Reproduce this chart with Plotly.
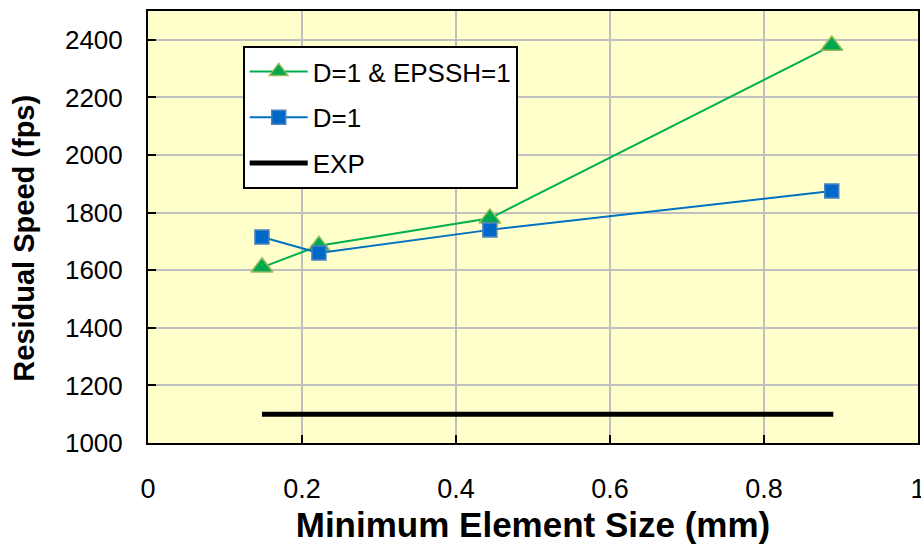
import plotly.graph_objects as go

# Minimum element size (mm) for each mesh
element_size = [0.148, 0.222, 0.444, 0.888]

# Residual speed (fps) for each model setting
speed_d1_epssh1 = [1610, 1685, 1780, 2380]
speed_d1 = [1715, 1660, 1740, 1875]

# Experimental residual speed, shown across the mesh range
exp_x = [0.148, 0.89]
exp_speed = [1100, 1100]

series_names = ["D=1 & EPSSH=1", "D=1", "EXP"]
x_ticks = [0, 0.2, 0.4, 0.6, 0.8, 1]
y_ticks = [1000, 1200, 1400, 1600, 1800, 2000, 2200, 2400]

fig = go.Figure()

fig.add_trace(go.Scatter(
    x=element_size, y=speed_d1_epssh1, name=series_names[0],
    mode="lines+markers", legendgroup="a",
    line=dict(color="#00B050", width=2),
    marker=dict(symbol="triangle-up", size=19, color="#00A84F",
                line=dict(color="#9BBB59", width=1.5)),
))
fig.add_trace(go.Scatter(
    x=element_size, y=speed_d1, name=series_names[1],
    mode="lines+markers", legendgroup="b",
    line=dict(color="#0070C0", width=2),
    marker=dict(symbol="square", size=14, color="#0068C8",
                line=dict(color="#4F81BD", width=1.5)),
))
fig.add_trace(go.Scatter(
    x=exp_x, y=exp_speed, name=series_names[2],
    mode="lines", legendgroup="c",
    line=dict(color="black", width=5),
))

axis_common = dict(
    showline=True, linecolor="black", linewidth=2, mirror=True,
    ticks="inside", ticklen=8, tickwidth=2, tickcolor="black",
    showgrid=True, gridcolor="#BFBFBF", gridwidth=1.5,
    zeroline=False, automargin=False,
    ticklabeloverflow="allow",
)

fig.update_xaxes(
    range=[0, 1], tickvals=x_ticks, ticktext=[f"{v:g}" for v in x_ticks],
    ticklabelstandoff=21,
    tickfont=dict(family="Arial", size=27, color="black"),
    title=dict(text="<b>Minimum Element Size (mm)</b>", standoff=12,
               font=dict(family="Arial", size=35, color="black")),
    **axis_common,
)
fig.update_yaxes(
    range=[1000, 2500], tickvals=y_ticks,
    ticklabelstandoff=18,
    tickfont=dict(family="Arial", size=26, color="black"),
    **axis_common,
)

fig.update_layout(
    width=921, height=544,
    margin=dict(l=148, r=3, t=11, b=101),
    paper_bgcolor="white",
    plot_bgcolor="#FFFFCC",
    font=dict(family="Arial", color="black"),
    legend=dict(
        x=0.123, y=0.919, xanchor="left", yanchor="top",
        bgcolor="white", bordercolor="black", borderwidth=2,
        font=dict(family="Arial", size=26, color="black"),
        traceorder="grouped", tracegroupgap=9, itemwidth=58,
    ),
    annotations=[dict(
        text="<b>Residual Speed (fps)</b>", textangle=-90,
        xref="paper", yref="paper", x=-0.161, y=0.473,
        xanchor="center", yanchor="middle", showarrow=False,
        font=dict(family="Arial", size=29, color="black"),
    )],
)

fig.write_html("out.html")
